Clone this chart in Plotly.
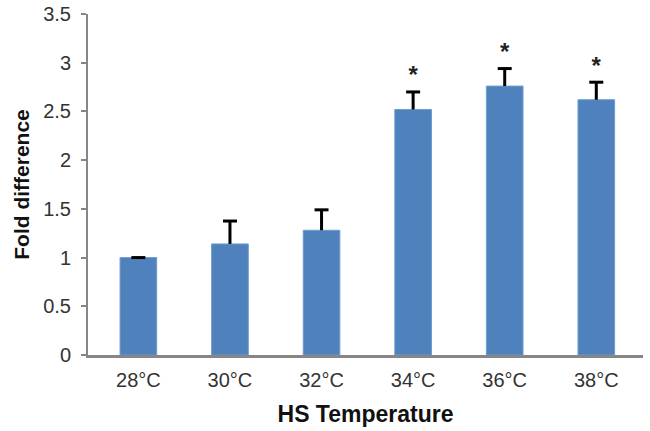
import plotly.graph_objects as go

categories = ["28°C", "30°C", "32°C", "34°C", "36°C", "38°C"]
fold_diff = [1.0, 1.14, 1.28, 2.52, 2.76, 2.62]
err_up = [0.0, 0.235, 0.21, 0.18, 0.18, 0.18]
significant = [False, False, False, True, True, True]

x_pos = list(range(len(categories)))

fig = go.Figure()
fig.add_trace(go.Bar(
    x=x_pos, y=fold_diff, width=0.40,
    marker=dict(color="#4F81BD", line=dict(color="#6F9BD1", width=1)),
    showlegend=False, hoverinfo="skip",
))

# upward-only error bars: stem + top cap
stem_x, stem_y = [], []
for x, v, e in zip(x_pos, fold_diff, err_up):
    stem_x += [x, x, None]
    stem_y += [v, v + e, None]
fig.add_trace(go.Scatter(
    x=stem_x, y=stem_y, mode="lines", line=dict(color="black", width=3),
    showlegend=False, hoverinfo="skip",
))
fig.add_trace(go.Scatter(
    x=x_pos, y=[v + e for v, e in zip(fold_diff, err_up)], mode="markers",
    marker=dict(symbol="line-ew", size=10, line=dict(color="black", width=3)),
    showlegend=False, hoverinfo="skip",
))

star_x = [x for x, s in zip(x_pos, significant) if s]
star_y = [v + e + 0.15 for v, e, s in zip(fold_diff, err_up, significant) if s]
fig.add_trace(go.Scatter(
    x=star_x, y=star_y, mode="text", text=["<b>*</b>"]*len(star_x),
    textfont=dict(family="Liberation Sans", size=24, color="#222"),
    showlegend=False, hoverinfo="skip",
))

fig.update_layout(
    width=650, height=431,
    margin=dict(l=88, r=7, t=14, b=76),
    paper_bgcolor="white", plot_bgcolor="white",
    font=dict(family="Liberation Sans", size=20, color="#333"),
    bargap=0.6,
)
fig.update_xaxes(
    range=[-0.55, 5.51], tickmode="array", tickvals=x_pos, ticktext=categories,
    showline=True, linecolor="#868686", linewidth=2.5, ticks="", showgrid=False,
    zeroline=False, ticklabelstandoff=5, automargin=False,
    tickfont=dict(size=20, color="#333"),
    title=dict(text="<b>HS Temperature</b>", font=dict(size=23, color="#111"), standoff=17),
)
fig.update_yaxes(
    range=[0, 3.5], tickvals=[0, 0.5, 1, 1.5, 2, 2.5, 3, 3.5],
    ticktext=["0", "0.5", "1", "1.5", "2", "2.5", "3", "3.5"],
    showline=True, linecolor="#868686", linewidth=2, ticks="outside", ticklen=5,
    tickcolor="#868686", tickwidth=2, showgrid=False, zeroline=False, automargin=False,
    tickfont=dict(size=20, color="#333"), ticklabelstandoff=6,
    title=dict(text="<b>Fold difference</b>", font=dict(size=21, color="#111"), standoff=8),
)

fig.write_html("out.html", config={"displayModeBar": False},
               post_script="document.body.style.margin='0';")
